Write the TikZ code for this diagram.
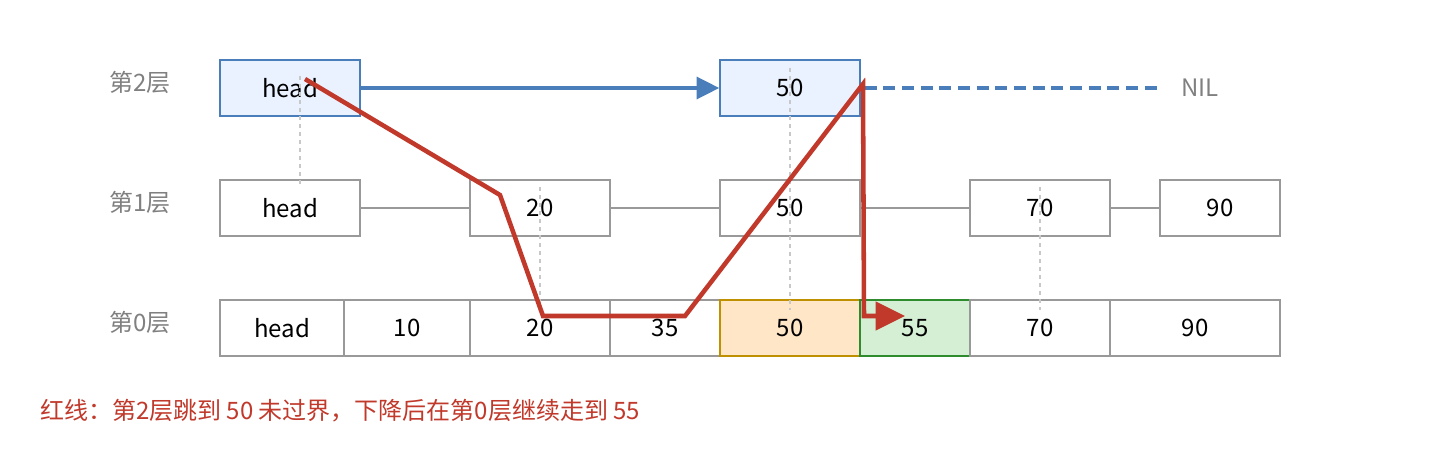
\documentclass[tikz,border=0pt]{standalone}
\usepackage{fontspec}
\setmainfont{Noto Sans CJK SC}
\usetikzlibrary{arrows.meta}
\definecolor{boxgray}{HTML}{999999}
\definecolor{labgray}{HTML}{808080}
\definecolor{guidegray}{HTML}{C8C8C8}
\definecolor{topblue}{HTML}{4A7EBB}
\definecolor{topfill}{HTML}{EAF2FF}
\definecolor{hitfill}{HTML}{FFE6C7}
\definecolor{hitline}{HTML}{BF9000}
\definecolor{goalfill}{HTML}{D5EFD5}
\definecolor{goalline}{HTML}{2E8B2E}
\definecolor{pathred}{HTML}{C0392B}
\begin{document}
\begin{tikzpicture}[x=0.75pt,y=-0.75pt,
  txt/.style={font=\fontsize{18}{21}\selectfont},
  cell/.style={txt,draw=boxgray,line width=1.1pt,minimum height=42pt,inner sep=0pt},
  plain/.style={},
  upper/.style={draw=topblue,fill=topfill},
  hit/.style={draw=hitline,fill=hitfill},
  goal/.style={draw=goalline,fill=goalfill},
  guide/.style={guidegray,line width=1.1pt,dash pattern=on 3pt off 3pt},
  redpath/.style={pathred,line width=3.4pt}]
  \useasboundingbox (0,0) rectangle (1440,460);
  % level labels
  \foreach \k/\y in {2/82,1/202,0/322}
    \node[txt,labgray] (lab\k) at (140,\y) {第\k 层};
  % level 2
  \foreach \lab/\xa/\xb/\n in {head/220/360/0,50/720/860/1} {
    \pgfmathsetmacro\xc{(\xa+\xb)/2}
    \pgfmathsetmacro\w{0.75*(\xb-\xa)}
    \node[cell,upper,minimum width=\w pt] (t\n) at (\xc,88) {\lab};
  }
  % level 1
  \foreach \lab/\xa/\xb/\n in {head/220/360/0,20/470/610/1,50/720/860/2,70/970/1110/3,90/1160/1280/4} {
    \pgfmathsetmacro\xc{(\xa+\xb)/2}
    \pgfmathsetmacro\w{0.75*(\xb-\xa)}
    \node[cell,minimum width=\w pt] (m\n) at (\xc,208) {\lab};
  }
  % level 0
  \foreach \lab/\xa/\xb/\n/\st in {head/220/344/0/plain,10/344/470/1/plain,20/470/610/2/plain,35/610/720/3/plain,
      50/720/860/4/hit,55/860/970/5/goal,70/970/1110/6/plain,90/1110/1280/7/plain} {
    \pgfmathsetmacro\xc{(\xa+\xb)/2}
    \pgfmathsetmacro\w{0.75*(\xb-\xa)}
    \node[cell,\st,minimum width=\w pt] (b\n) at (\xc,328) {\lab};
  }
  \foreach \i in {0,...,3} {
    \pgfmathtruncatemacro\j{\i+1}
    \draw[boxgray,line width=1.1pt] (m\i) -- (m\j);
  }
  \draw[guide] (300,76) -- (300,187);
  \draw[guide] (540,187) -- (540,310);
  \draw[guide] (790,68) -- (790,310);
  \draw[guide] (1040,187) -- (1040,310);
  \node[txt,labgray] (nil) at (1200,88) {NIL};
  \draw[topblue,line width=2.5pt,-{Triangle[length=17pt,width=16.5pt]}] (t0) -- (t1);
  \draw[topblue,line width=2.5pt,dash pattern=on 9pt off 5pt,shorten <=3pt,shorten >=10pt] (t1) -- (nil);
  % search path
  \coordinate (r0) at (305,79);
  \coordinate (r1) at (500,195);
  \coordinate (r2) at (543,316);
  \coordinate (r3) at (685,316);
  \coordinate (r4) at (863,84);
  \coordinate (r5) at (864,316);
  \coordinate (r6) at (905,316);
  \draw[redpath,-{Triangle[length=22pt,width=21pt]}] (r0) -- (r1) -- (r2) -- (r3) -- (r4) -- (r5) -- (r6);
  \node[txt,pathred,anchor=west,inner sep=0pt] (note) at (40,411)
    {红线：第2层跳到 50 未过界，下降后在第0层继续走到 55};
\end{tikzpicture}
\end{document}
